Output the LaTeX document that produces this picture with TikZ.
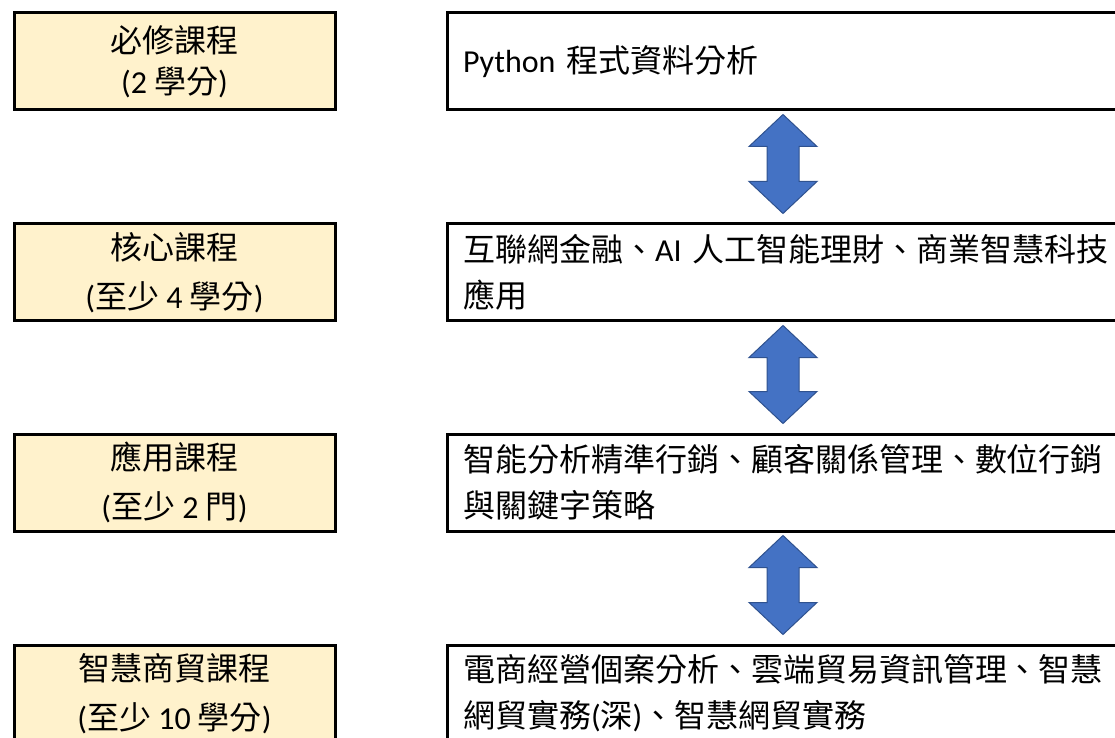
\documentclass[tikz,border=0pt]{standalone}
\usepackage{fontspec}
\setmainfont{Carlito}
\newfontfamily\cjkfont{Noto Sans CJK TC}
\newcommand\zh[1]{{\cjkfont #1}}
\usetikzlibrary{calc}
\definecolor{boxfill}{HTML}{FFF2CC}
\definecolor{arrowfill}{HTML}{4472C4}
\definecolor{arrowline}{HTML}{2F528F}
\tikzset{
  leftbox/.style={draw=black, line width=2.25pt, fill=boxfill, rectangle,
    minimum width=240.75pt, minimum height=72.75pt, align=center, inner sep=0pt,
    font=\fontsize{24}{36.75}\selectfont},
  rightbox/.style={draw=black, line width=2.25pt, fill=white, rectangle,
    minimum height=72.75pt, align=left, inner xsep=12pt, inner ysep=0pt,
    text width=484.5pt, font=\fontsize{24}{34.5}\selectfont},
  barrow/.style={fill=arrowfill, draw=arrowline, line width=0.75pt, line join=miter}
}
\newcommand\blockarrow[2]{%
  \draw[barrow] let \p1=(#1), \p2=(#2) in
    (\x1,\y1) -- (\x1+25.5pt,\y1-24pt) -- (\x1+12pt,\y1-24pt) -- (\x1+12pt,\y2+24pt)
    -- (\x1+25.5pt,\y2+24pt) -- (\x1,\y2) -- (\x1-25.5pt,\y2+24pt) -- (\x1-12pt,\y2+24pt)
    -- (\x1-12pt,\y1-24pt) -- (\x1-25.5pt,\y1-24pt) -- cycle;}
\begin{document}
\begin{tikzpicture}[x=0.75pt, y=-0.75pt]
\useasboundingbox (0,0) rectangle (1115,738);
\clip (0,0) rectangle (1115,738);
% left boxes
\node[leftbox, font=\fontsize{24}{30.75}\selectfont] (l1) at (174.5,61.5) {\zh{必修課程}\\(2 \zh{學分})};
\node[leftbox] (l2) at (174.5,272.5) {\zh{核心課程}\\(\zh{至少} 4 \zh{學分})};
\node[leftbox] (l3) at (174.5,482.5) {\zh{應用課程}\\(\zh{至少} 2 \zh{門})};
\node[leftbox] (l4) at (174.5,693.5) {\zh{智慧商貿課程}\\(\zh{至少} 10 \zh{學分})};
% right boxes
\node[rightbox] (r1) at (786,61.5) {Python \zh{程式資料分析}};
\node[rightbox] (r2) at (786,272.5) {\zh{互聯網金融、}AI \zh{人工智能理財、商業智慧科技}\\\zh{應用}};
\node[rightbox] (r3) at (786,482.5) {\zh{智能分析精準行銷、顧客關係管理、數位行銷}\\\zh{與關鍵字策略}};
\node[rightbox] (r4) at (786,693.5) {\zh{電商經營個案分析、雲端貿易資訊管理、智慧}\\\zh{網貿實務}(\zh{深})\zh{、智慧網貿實務}};
% arrow end points
\coordinate (a1t) at ($(r1.south)+(-3,3)$);
\coordinate (a1b) at ($(r2.north)+(-3,-9)$);
\coordinate (a2t) at ($(r2.south)+(-3,3)$);
\coordinate (a2b) at ($(r3.north)+(-3,-9)$);
\coordinate (a3t) at ($(r3.south)+(-3,3)$);
\coordinate (a3b) at ($(r4.north)+(-3,-9)$);
\blockarrow{a1t}{a1b}
\blockarrow{a2t}{a2b}
\blockarrow{a3t}{a3b}
\end{tikzpicture}
\end{document}
